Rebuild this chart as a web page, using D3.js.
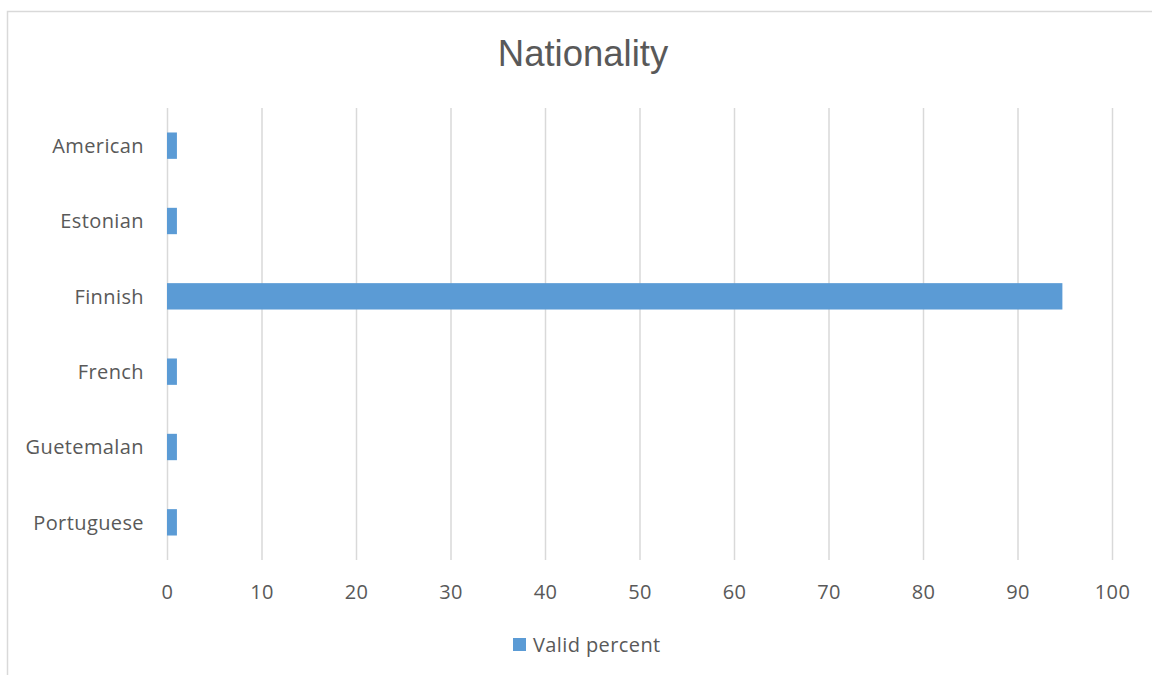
<!DOCTYPE html>
<html>
<head>
<meta charset="utf-8">
<script src="https://cdn.jsdelivr.net/npm/d3@7"></script>
<style>
  html, body { margin: 0; padding: 0; background: #fff; }
  svg { display: block; }
</style>
</head>
<body>
<svg id="chart" width="1152" height="675"></svg>
<script>
const categories = ["American", "Estonian", "Finnish", "French", "Guetemalan", "Portuguese"];
const validPercent = [1.05, 1.05, 94.75, 1.05, 1.05, 1.05];
const xTicks = [0, 10, 20, 30, 40, 50, 60, 70, 80, 90, 100];
const chartTitle = "Nationality";
const seriesName = "Valid percent";

const svg = d3.select("#chart");
const m = { left: 167, right: 1112, top: 108, bottom: 560 };
const axisFont = "'Open Sans', 'Liberation Sans', sans-serif";
const textColor = "#595959";
const barColor = "#5B9BD5";
const gridColor = "#D9D9D9";
const axisSize = "20px";
const axisSpacing = "0.4px";

// outer chart border (cropped at right/bottom)
svg.append("rect")
  .attr("x", 7.5).attr("y", 11.5)
  .attr("width", 1160).attr("height", 700)
  .attr("fill", "#fff").attr("stroke", gridColor).attr("stroke-width", 1.5);

const x = d3.scaleLinear().domain([0, 100]).range([m.left, m.right]);
const y = d3.scaleBand().domain(categories).range([m.top, m.bottom]).paddingInner(0.65).paddingOuter(0.325);

// gridlines
const xAxisGrid = d3.axisBottom(x).tickValues(xTicks).tickSize(-(m.bottom - m.top)).tickFormat("");
svg.append("g")
  .attr("transform", `translate(0,${m.bottom})`)
  .call(xAxisGrid)
  .call(g => g.select(".domain").remove())
  .call(g => g.selectAll("line").attr("stroke", gridColor).attr("stroke-width", 1.5));

// bars
svg.append("g").selectAll("rect")
  .data(categories.map((c, i) => ({ c, v: validPercent[i] })))
  .join("rect")
  .attr("x", x(0))
  .attr("y", d => y(d.c))
  .attr("width", d => x(d.v) - x(0))
  .attr("height", y.bandwidth())
  .attr("fill", barColor);

// x axis labels
const xAxis = d3.axisBottom(x).tickValues(xTicks).tickSize(0).tickPadding(0).tickFormat(d3.format("d"));
svg.append("g")
  .attr("transform", `translate(0,${m.bottom})`)
  .call(xAxis)
  .call(g => g.select(".domain").remove())
  .call(g => g.selectAll("text")
    .attr("dy", null).attr("y", 39)
    .attr("fill", textColor)
    .style("font-family", axisFont).style("font-size", axisSize).style("letter-spacing", axisSpacing));

// y axis labels
const yAxis = d3.axisLeft(y).tickSize(0).tickPadding(23);
svg.append("g")
  .attr("transform", `translate(${m.left},0)`)
  .call(yAxis)
  .call(g => g.select(".domain").remove())
  .call(g => g.selectAll("text")
    .attr("dy", "0.36em")
    .attr("fill", textColor)
    .style("font-family", axisFont).style("font-size", axisSize).style("letter-spacing", axisSpacing));

// title
svg.append("text")
  .attr("x", 583).attr("y", 66)
  .attr("text-anchor", "middle")
  .attr("fill", textColor)
  .style("font-family", "'Liberation Sans', Arial, sans-serif")
  .style("font-size", "36.5px")
  .text(chartTitle);

// legend
const lg = svg.append("g").attr("transform", "translate(513,638)");
lg.append("rect").attr("width", 13).attr("height", 13).attr("fill", barColor);
lg.append("text")
  .attr("x", 20).attr("y", 13.5)
  .attr("fill", textColor)
  .style("font-family", axisFont).style("font-size", axisSize).style("letter-spacing", axisSpacing)
  .text(seriesName);
</script>
</body>
</html>
